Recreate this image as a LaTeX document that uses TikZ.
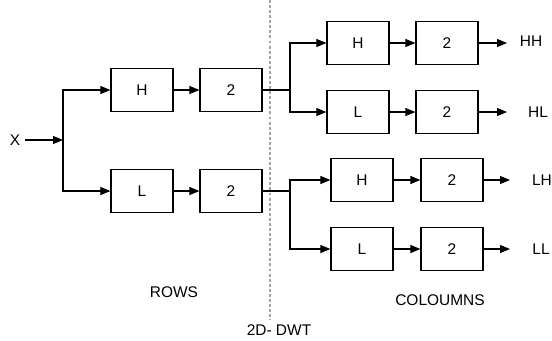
\documentclass[tikz,border=0pt]{standalone}
\usepackage{fontspec}
\setmainfont{Liberation Sans}
\usetikzlibrary{arrows.meta}
\definecolor{dashgray}{RGB}{165,165,165}

\begin{document}
\begin{tikzpicture}[x=0.75pt,y=-0.75pt,
    blk/.style={draw,line width=0.9pt,minimum width=46.5pt,minimum height=32.5pt,inner sep=0pt},
    arr/.style={-{Triangle[length=7.5pt,width=6pt]},line width=0.8pt},
    wire/.style={line width=0.8pt},
    font=\fontsize{11.6}{13}\selectfont]
  \useasboundingbox (0,0) rectangle (552,340);
  % divider between rows and columns
  \draw[dashgray,line width=0.8pt,dash pattern=on 2.2pt off 1.6pt] (270,0) -- (270,320);
  % Rows stage
  \node (X) at (15,140) {X};
  \coordinate (rsplit) at (63,140);
  \node[blk] (rh) at (142,90) {H};
  \node[blk] (rhd) at (231,90) {2};
  \node[blk] (rl) at (142,191) {L};
  \node[blk] (rld) at (231,191) {2};
  \draw[arr] (X.east) -- (rsplit);
  \draw[arr] (rsplit) |- (rh.west);
  \draw[arr] (rsplit) |- (rl.west);
  \draw[arr] (rh.east) -- (rhd.west);
  \draw[arr] (rl.east) -- (rld.west);
  % Columns stage, upper branch
  \coordinate (csplitu) at (290,90);
  \node[blk] (uh) at (358,43) {H};
  \node[blk] (uhd) at (447,43) {2};
  \node[blk] (ul) at (358,112) {L};
  \node[blk] (uld) at (447,112) {2};
  \draw[wire] (rhd.east) -- (csplitu);
  \draw[arr] (csplitu) |- (uh.west);
  \draw[arr] (csplitu) |- (ul.west);
  \draw[arr] (uh.east) -- (uhd.west);
  \draw[arr] (ul.east) -- (uld.west);
  % Columns stage, lower branch
  \coordinate (csplitl) at (290,191);
  \node[blk] (lh) at (362,180) {H};
  \node[blk] (lhd) at (452,180) {2};
  \node[blk] (ll) at (362,249) {L};
  \node[blk] (lld) at (452,249) {2};
  \draw[wire] (rld.east) -- (csplitl);
  \draw[arr] (csplitl) |- (lh.west);
  \draw[arr] (csplitl) |- (ll.west);
  \draw[arr] (lh.east) -- (lhd.west);
  \draw[arr] (ll.east) -- (lld.west);
  % Outputs
  \coordinate (ohh) at (507,43);
  \coordinate (ohl) at (507,112);
  \coordinate (olh) at (510,180);
  \coordinate (oll) at (510,249);
  \draw[arr] (uhd.east) -- (ohh);
  \draw[arr] (uld.east) -- (ohl);
  \draw[arr] (lhd.east) -- (olh);
  \draw[arr] (lld.east) -- (oll);
  \node (HH) at (531,41) {HH};
  \node (HL) at (538,112) {HL};
  \node (LH) at (542,180) {LH};
  \node (LL) at (541,249) {LL};
  % Stage captions
  \node (rows) at (174,292) {ROWS};
  \node (cols) at (440,300) {COLOUMNS};
  \node (dwt) at (279,330) {2D- DWT};
\end{tikzpicture}
\end{document}
